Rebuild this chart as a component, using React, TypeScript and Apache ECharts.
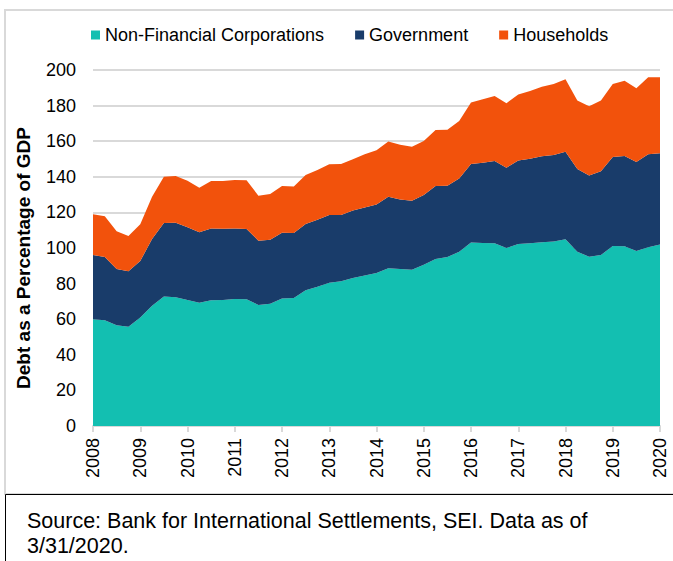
import React, { useEffect, useRef } from "react";
import * as echarts from "echarts";

const quarters = [
  "2008Q1","2008Q2","2008Q3","2008Q4",
  "2009Q1","2009Q2","2009Q3","2009Q4",
  "2010Q1","2010Q2","2010Q3","2010Q4",
  "2011Q1","2011Q2","2011Q3","2011Q4",
  "2012Q1","2012Q2","2012Q3","2012Q4",
  "2013Q1","2013Q2","2013Q3","2013Q4",
  "2014Q1","2014Q2","2014Q3","2014Q4",
  "2015Q1","2015Q2","2015Q3","2015Q4",
  "2016Q1","2016Q2","2016Q3","2016Q4",
  "2017Q1","2017Q2","2017Q3","2017Q4",
  "2018Q1","2018Q2","2018Q3","2018Q4",
  "2019Q1","2019Q2","2019Q3","2019Q4",
  "2020Q1",
];

const nonFinancialCorporations = [
  60.0, 59.4, 56.6, 55.8, 60.9, 67.6, 72.8, 72.3, 70.8, 69.3, 70.6, 70.8,
  71.3, 71.2, 68.0, 68.7, 71.6, 71.9, 76.2, 78.3, 80.5, 81.3, 83.1, 84.5,
  86.0, 88.6, 88.2, 87.8, 90.6, 93.8, 94.9, 97.9, 103.1, 102.8, 102.6, 100.0,
  102.2, 102.6, 103.2, 103.7, 104.9, 97.9, 95.1, 96.1, 101.1, 101.0, 98.3, 100.4,
  101.9,
];

const government = [
  36.0, 35.6, 31.6, 31.1, 31.8, 37.4, 41.2, 41.9, 40.8, 39.5, 40.4, 40.0,
  39.7, 39.5, 36.1, 36.0, 36.9, 36.5, 37.3, 37.6, 38.0, 37.2, 37.9, 38.3,
  38.5, 40.2, 39.1, 38.8, 39.2, 41.0, 40.1, 41.2, 44.1, 45.1, 46.3, 45.1,
  46.9, 47.6, 48.3, 48.5, 49.2, 46.5, 45.7, 47.0, 50.0, 50.7, 50.0, 52.2,
  51.3,
];

const households = [
  23.0, 22.8, 21.2, 19.8, 20.6, 23.8, 26.0, 26.2, 26.2, 25.1, 26.6, 26.8,
  27.2, 27.3, 25.3, 25.6, 26.4, 26.1, 27.5, 27.9, 28.5, 28.7, 28.8, 29.8,
  30.4, 31.1, 30.7, 30.3, 30.3, 31.5, 31.5, 32.2, 34.6, 35.6, 36.5, 36.2,
  37.2, 38.0, 39.1, 39.9, 40.7, 38.4, 38.8, 39.7, 41.0, 42.3, 41.4, 43.3,
  42.7,
];

const seriesNames = ["Non-Financial Corporations", "Government", "Households"];
const seriesColors = ["#13BFB1", "#193C6A", "#F2520C"];
const yAxisTitle = "Debt as a Percentage of GDP";
const sourceText = "Source: Bank for International Settlements, SEI. Data as of\n3/31/2020.";

const FONT = "'Liberation Sans', Arial, sans-serif";

export default function App() {
  const ref = useRef<HTMLDivElement>(null);

  useEffect(() => {
    if (!ref.current) return;
    const chart = echarts.init(ref.current, null, { renderer: "svg" });
    const dataSets = [nonFinancialCorporations, government, households];
    chart.setOption({
      animation: false,
      textStyle: { fontFamily: FONT },
      legend: {
        data: seriesNames,
        left: 86,
        top: 21,
        itemWidth: 9,
        itemHeight: 9,
        itemGap: 31,
        icon: "rect",
        textStyle: { fontSize: 18, color: "#000", fontFamily: FONT },
      },
      grid: { left: 93, right: 13, top: 70, bottom: 135, containLabel: false },
      xAxis: {
        type: "category",
        data: quarters,
        boundaryGap: false,
        axisLine: { show: true, lineStyle: { color: "#d9d9d9", width: 2 } },
        axisTick: { show: true, interval: 3, length: 6, lineStyle: { color: "#d9d9d9", width: 2 } },
        axisLabel: {
          interval: 3,
          rotate: 90,
          margin: 12,
          fontSize: 18,
          color: "#000",
          fontFamily: FONT,
          formatter: (v: string) => v.slice(0, 4),
        },
        splitLine: { show: false },
      },
      yAxis: {
        type: "value",
        min: 0,
        max: 200,
        interval: 20,
        axisLine: { show: false },
        axisTick: { show: false },
        axisLabel: { fontSize: 18, color: "#000", margin: 17, fontFamily: FONT },
        splitLine: { lineStyle: { color: "#d9d9d9", width: 2 } },
      },
      series: seriesNames.map((name, i) => ({
        name,
        type: "line",
        stack: "total",
        data: dataSets[i],
        symbol: "none",
        lineStyle: { width: 0 },
        itemStyle: { color: seriesColors[i] },
        areaStyle: { color: seriesColors[i], opacity: 1 },
        z: 2,
      })),
      graphic: [
        {
          type: "rect",
          shape: { x: 5, y: 10, width: 720, height: 484 },
          style: { fill: "none", stroke: "#d9d9d9", lineWidth: 2 },
          silent: true,
          z: -1,
        },
        {
          type: "text",
          x: 23,
          y: 258,
          rotation: Math.PI / 2,
          style: {
            text: yAxisTitle,
            fontSize: 19,
            fontWeight: "bold",
            fill: "#000",
            fontFamily: FONT,
            align: "center",
            verticalAlign: "middle",
          },
          silent: true,
        },
        {
          type: "rect",
          shape: { x: 5.5, y: 494.5, width: 720, height: 100 },
          style: { fill: "#fff", stroke: "#000", lineWidth: 1 },
          silent: true,
        },
        {
          type: "text",
          x: 27,
          y: 508,
          style: {
            text: sourceText,
            fontSize: 21.5,
            lineHeight: 25,
            fill: "#000",
            fontFamily: FONT,
          },
          silent: true,
        },
      ],
    });
    return () => chart.dispose();
  }, []);

  return (
    <div
      ref={ref}
      style={{ position: "fixed", left: 0, top: 0, width: 673, height: 561, background: "#fff" }}
    />
  );
}
